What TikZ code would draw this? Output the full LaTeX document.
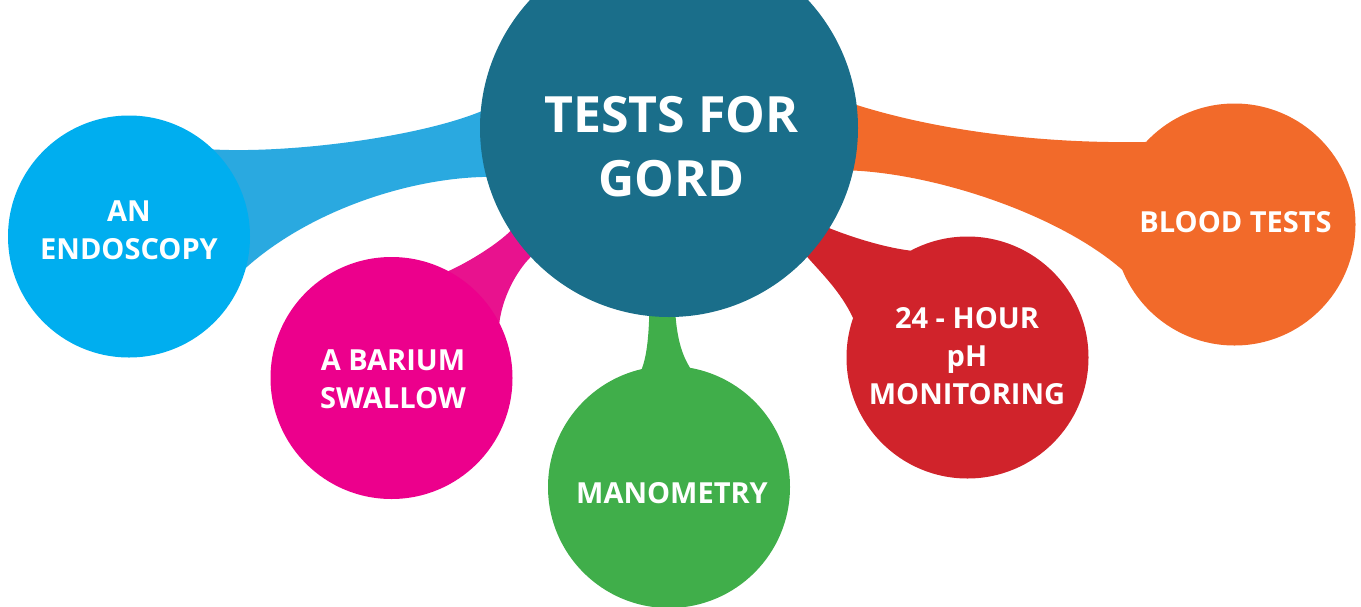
\documentclass[tikz,border=0pt]{standalone}
\usepackage{fontspec}
\setmainfont{Open Sans}
\usetikzlibrary{backgrounds}
\definecolor{grdteal}{HTML}{1A6E8A}
\definecolor{grdcyan}{HTML}{00AEEF}
\definecolor{grdsky}{HTML}{2AA9E0}
\definecolor{grdpink}{HTML}{EC008C}
\definecolor{grdrose}{HTML}{E8128E}
\definecolor{grdgreen}{HTML}{40AE4A}
\definecolor{grdred}{HTML}{D0232B}
\definecolor{grdorange}{HTML}{F26A2A}
\tikzset{
  hub/.style={circle, fill=grdteal, minimum size=378pt, inner sep=0pt, outer sep=0pt},
  testdot/.style={circle, minimum size=242pt, inner sep=0pt, outer sep=0pt},
  title/.style={text=white, font=\bfseries\fontsize{50}{64}\selectfont, align=center},
  testname/.style={text=white, font=\bfseries\fontsize{29}{38}\selectfont, align=center},
}

\begin{document}
\begin{tikzpicture}[x=1pt, y=-1pt]
  \useasboundingbox (0,0) rectangle (1361,606);
  \clip (0,0) rectangle (1361,606);
  \node[hub] (hub) at (669,128) {};
  \foreach \n/\x/\y/\c in {endo/129/236.5/grdcyan, barium/391.5/378/grdpink, mano/669/487/grdgreen,
      phmon/967.5/357.5/grdred, blood/1234.5/224.5/grdorange}
    \node[testdot, fill=\c] (\n) at (\x,\y) {};

  \node[title] (title) at (671.5,147) {TESTS FOR\\GORD};
  \node[testname] (endo-text) at (129,230) {AN\\ENDOSCOPY};
  \node[testname] (barium-text) at (393,379) {A BARIUM\\SWALLOW};
  \node[testname] (mano-text) at (672,493.5) {MANOMETRY};
  \node[testname] (phmon-text) at (967,356) {24 - HOUR\\pH\\MONITORING};
  \node[testname] (blood-text) at (1235.5,222.5) {BLOOD TESTS};

  \begin{scope}[on background layer]
    \fill[grdsky] (endo.46.5) .. controls +(77,4) and +(-64,26) .. (hub.175) -- (hub.center)
      -- (hub.195) .. controls +(-76,1) and +(65,-58) .. (endo.345) -- (endo.center) -- cycle;
    \fill[grdrose] (hub.213) .. controls +(-13,13) and +(22,-10) .. (barium.62) -- (barium.center)
      -- (barium.27) .. controls +(3,-25) and +(-15,15) .. (hub.223) -- (hub.center) -- cycle;
    \fill[grdgreen] (hub.264) .. controls +(-1,28) and +(4,-11) .. (mano.103.8) -- (mano.center)
      -- (mano.80) .. controls +(-8,-13) and +(2,23) .. (hub.272) -- (hub.center) -- cycle;
    \fill[grdred] (hub.328) .. controls +(25,10) and +(-25,-3) .. (phmon.118.6) -- (phmon.center)
      -- (phmon.161) .. controls +(-12,-26) and +(14,16) .. (hub.317) -- (hub.center) -- cycle;
    \fill[grdorange] (hub.7) .. controls +(73,23) and +(-115,2) .. (blood.137.7) -- (blood.center)
      -- (blood.202) .. controls +(-63,-55) and +(85,4) .. (hub.347) -- (hub.center) -- cycle;
  \end{scope}
\end{tikzpicture}
\end{document}
